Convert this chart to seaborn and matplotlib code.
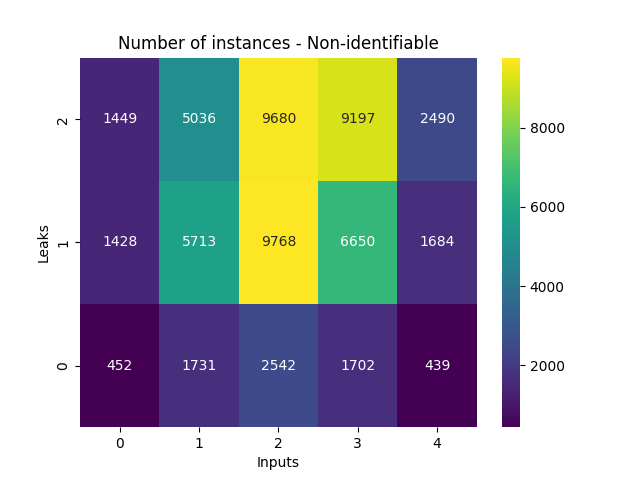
import pandas as pd
import seaborn as sns
import matplotlib
matplotlib.use("Agg")
import matplotlib.pyplot as plt

# Values
inputs = [0, 1, 2, 3, 4]
leaks = [0, 1, 2]
leaks_0 = [452, 1731, 2542, 1702, 439]
leaks_1 = [1428, 5713, 9768, 6650, 1684]
leaks_2 = [1449, 5036, 9680, 9197, 2490]

df = pd.DataFrame([leaks_0, leaks_1, leaks_2], index=leaks, columns=inputs)

fig, ax = plt.subplots(figsize=(6.4, 4.8), dpi=100)
sns.heatmap(df, annot=True, fmt="d", cmap="viridis", ax=ax)
ax.invert_yaxis()
ax.set_xlabel("Inputs")
ax.set_ylabel("Leaks")
ax.set_title("Number of instances - Non-identifiable")

fig.savefig("out.png")
